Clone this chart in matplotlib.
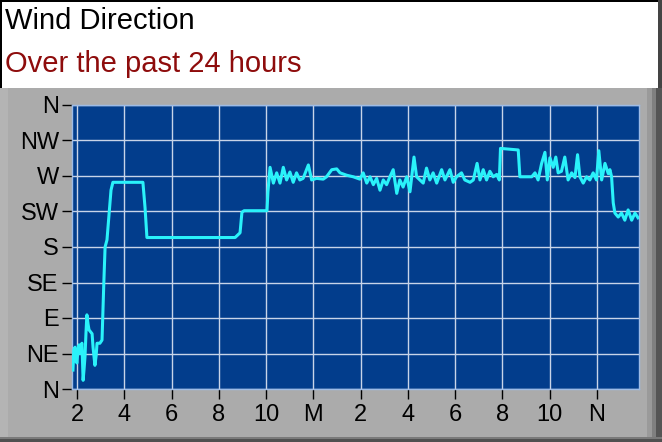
import matplotlib
matplotlib.use("Agg")
import matplotlib.pyplot as plt
from matplotlib.patches import Rectangle

# ---- data -------------------------------------------------------------
hours = [1.83, 1.87, 1.92, 1.96, 2.00, 2.04, 2.09, 2.13, 2.17, 2.21, 2.26, 2.30,
         2.34, 2.38, 2.42, 2.47, 2.51, 2.59, 2.64, 2.68, 2.76, 2.81, 2.85, 2.97,
         3.06, 3.10, 3.14, 3.19, 3.27, 3.36, 3.44, 3.52, 4.79, 4.88, 4.96, 8.69,
         8.90, 8.98, 9.07, 10.04, 10.08, 10.17,
         10.31, 10.45, 10.59, 10.73, 10.87, 11.01, 11.15, 11.29, 11.43, 11.57,
         11.79, 11.93, 12.14, 12.42, 12.56, 12.78, 12.99, 13.13, 13.41, 13.69,
         13.97, 14.11, 14.26, 14.40, 14.54, 14.68, 14.82, 14.96, 15.10, 15.24,
         15.38, 15.53, 15.66, 15.80, 15.95, 16.09, 16.26, 16.37, 16.51, 16.65,
         16.79, 16.93, 17.07, 17.22, 17.43, 17.57, 17.78, 17.92, 18.06,
         18.27, 18.41, 18.63, 18.77, 18.93, 19.05, 19.19, 19.33, 19.47, 19.61,
         19.76, 19.87, 19.92, 20.67, 20.74, 21.24, 21.38, 21.51, 21.66, 21.80,
         21.90, 22.01, 22.15, 22.26, 22.36, 22.50, 22.64, 22.78, 22.93, 23.07,
         23.18, 23.28, 23.42, 23.56, 23.70, 23.84, 23.98, 24.08, 24.20, 24.34,
         24.48, 24.55, 24.62, 24.69, 24.76, 24.90, 25.04, 25.18, 25.32, 25.47,
         25.61, 25.74]
direction = [24, 50, 53, 35, 33, 50, 56, 45, 55, 58, 11, 25,
             41, 70, 94, 82, 75, 72, 70, 53, 30, 42, 58, 58,
             62, 100, 138, 180, 189, 223, 252, 262, 262, 230, 192, 192,
             198, 224, 226, 226, 250, 281,
             261, 274, 261, 281, 265, 275, 262, 274, 265, 267,
             284, 265, 267, 266, 269, 278, 279, 274, 271, 269,
             266, 274, 261, 269, 259, 267, 252, 265, 259, 269,
             278, 248, 265, 256, 269, 250, 294, 269, 265, 261,
             280, 265, 274, 261, 278, 265, 278, 262, 269,
             274, 265, 262, 265, 286, 265, 278, 265, 276, 269,
             272, 265, 305, 303, 269, 269, 274, 265, 286, 300,
             265, 293, 281, 294, 274, 276, 294, 265, 274, 268,
             297, 269, 261, 269, 265, 274, 265, 302, 265, 286,
             273, 278, 269, 236, 223, 218, 223, 214, 227, 214,
             223, 217]

x_ticks = [2, 4, 6, 8, 10, 12, 14, 16, 18, 20, 22, 24]
x_labels = ["2", "4", "6", "8", "10", "M", "2", "4", "6", "8", "10", "N"]
y_ticks = [0, 45, 90, 135, 180, 225, 270, 315, 360]
y_labels = ["N", "NE", "E", "SE", "S", "SW", "W", "NW", "N"]
title = "Wind Direction"
subtitle = "Over the past 24 hours"

# ---- figure -------------------------------------------------------------
W, H = 662, 442
plt.rcParams['font.family'] = ['Liberation Sans', 'DejaVu Sans']
fig = plt.figure(figsize=(W / 100, H / 100), dpi=100)
fig.patch.set_facecolor('white')

def px_rect(x0, y0, x1, y1, color, z=0):
    fig.patches.append(Rectangle((x0 / W, 1 - y1 / H), (x1 - x0) / W, (y1 - y0) / H,
                                 transform=fig.transFigure, facecolor=color,
                                 edgecolor='none', zorder=z))

# gray panel with bevel
px_rect(0, 88, W, H, '#ababab')
px_rect(0, 88, 8, H, '#b4b4b4')
px_rect(647, 88, 652, H, '#9a9a9a')
px_rect(652, 88, 656, H, '#808080')
px_rect(656, 88, W, H, '#555555')
px_rect(0, 437, W, H, '#7a7a7a')
px_rect(0, 439, W, H, '#505050')
# header border lines
px_rect(0, 0, W, 1.5, '#000000')
px_rect(0, 0, 1.5, 88, '#000000')
px_rect(W - 4, 0, W, 88, '#444444')

fig.text(5 / W, 1 - 29 / H, title, fontsize=21, color='black', va='baseline', ha='left')
fig.text(5 / W, 1 - 72 / H, subtitle, fontsize=21, color='#8e0c0c', va='baseline', ha='left')

ax = fig.add_axes([72 / W, 1 - 389 / H, (639 - 72) / W, (389 - 105) / H])
ax.set_zorder(5)
ax.set_facecolor('#023d8c')
ax.plot(hours, direction, color='#2af2fa', linewidth=2.2, solid_joinstyle='round', zorder=3)

ax.set_xlim(1.79, 25.78)
ax.set_ylim(0, 360)
ax.set_xticks(x_ticks)
ax.set_xticklabels(x_labels)
ax.set_yticks(y_ticks)
ax.set_yticklabels(y_labels)
ax.tick_params(axis='both', direction='out', length=7.5, width=1, colors='black',
               labelsize=17)
ax.tick_params(axis='y', pad=2)
ax.tick_params(axis='x', pad=3)
ax.grid(True, color='#c8d4e8', linewidth=1)
ax.set_axisbelow(True)
for s in ax.spines.values():
    s.set_color('#9dbbe6')
    s.set_linewidth(1)

fig.savefig('out.png', dpi=100, facecolor=fig.get_facecolor())
